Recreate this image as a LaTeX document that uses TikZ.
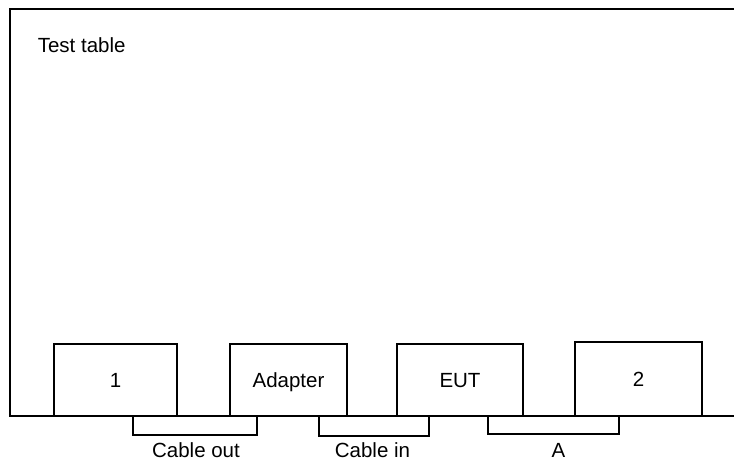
\documentclass[tikz,border=0pt]{standalone}
\usepackage{fontspec}
\setmainfont{Liberation Sans}
\begin{document}
\begin{tikzpicture}[x=1pt,y=-1pt,
  line width=1.6pt,
  txt/.style={font=\fontsize{20.5}{24}\selectfont, text height=15pt, text depth=0pt, inner sep=0pt},
  unit/.style={draw, txt, minimum height=72pt},
  cable/.style={draw, line cap=rect}]
\useasboundingbox (0,0) rectangle (734,463);
% test table
\draw (734,9) -- (10,9) -- (10,416) -- (734,416);
\node[txt, anchor=base west] (title) at (37,52) {Test table};
% units
\node[unit, minimum width=123pt] (b1) at (115.5,380) {1};
\node[unit, minimum width=117pt] (adapter) at (288.5,380) {Adapter};
\node[unit, minimum width=126pt] (eut) at (460,380) {EUT};
\node[unit, minimum width=127pt, minimum height=74pt] (b2) at (638.5,379) {2};
% cable end points
\coordinate (co1) at (133,416);
\coordinate (co2) at (257,416);
\coordinate (ci1) at (319,416);
\coordinate (ci2) at (429,416);
\coordinate (a1) at (488,416);
\coordinate (a2) at (619,416);
\draw (co1) -- ++(0,19) -| (co2);
\draw (ci1) -- ++(0,20) -| (ci2);
\draw (a1) -- ++(0,18) -| (a2);
% labels
\node[txt] (lco) at (196,450) {Cable out};
\node[txt] (lci) at (372.5,450) {Cable in};
\node[txt] (la) at (558.5,450) {A};
\end{tikzpicture}
\end{document}
